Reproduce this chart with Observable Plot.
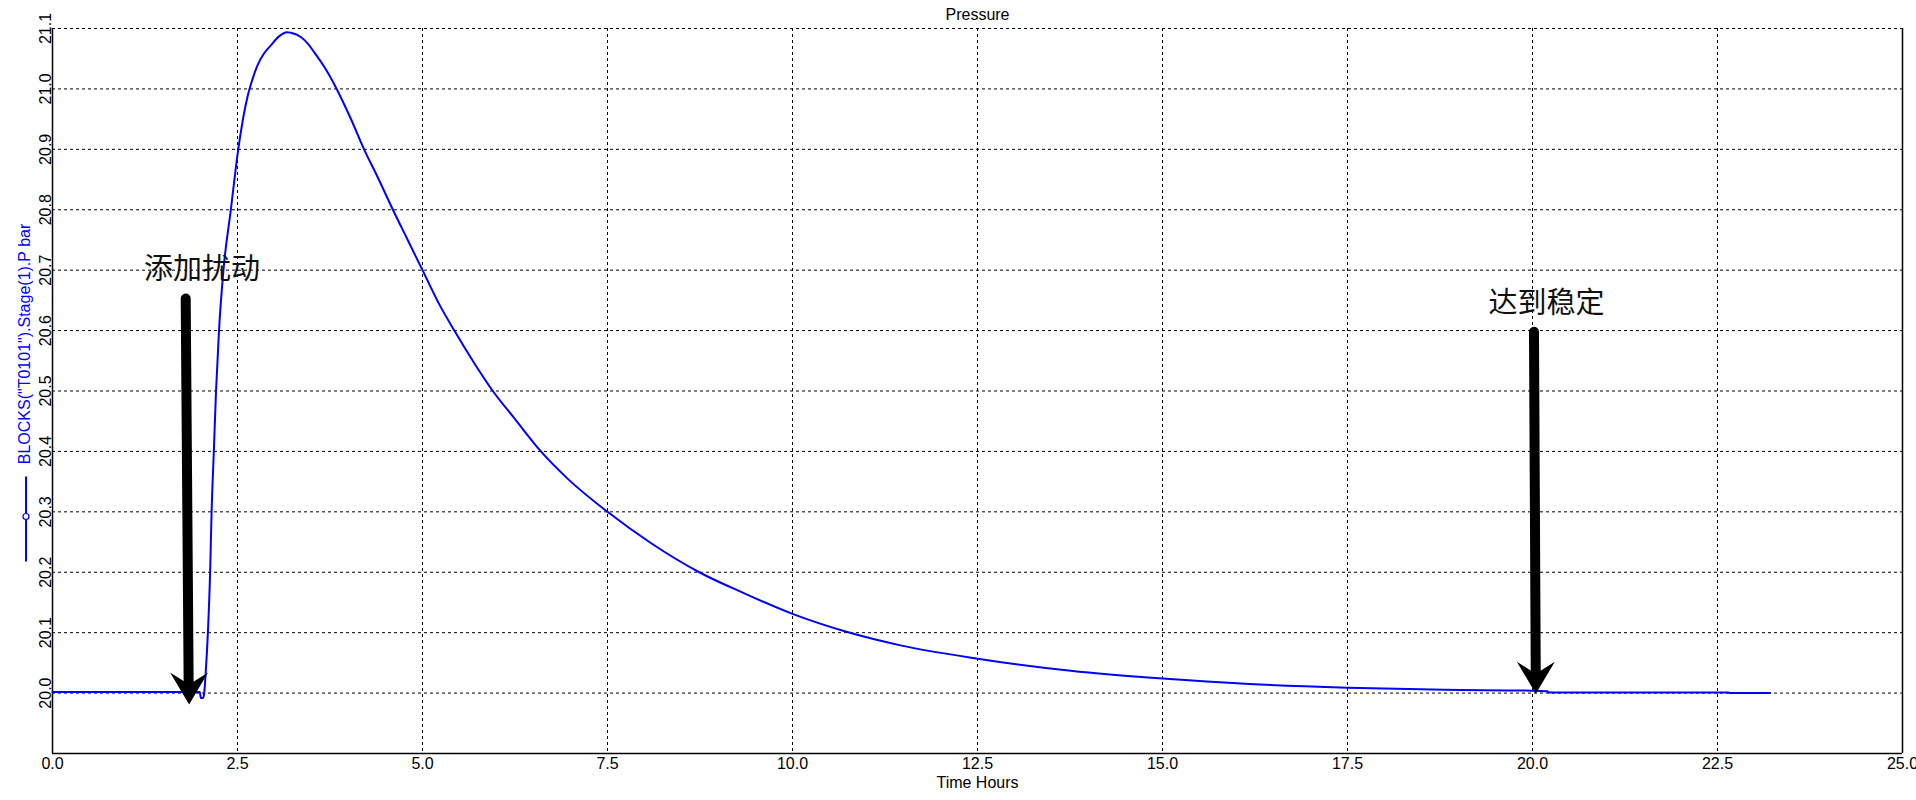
<!DOCTYPE html>
<html>
<head>
<meta charset="utf-8">
<script src="https://cdn.jsdelivr.net/npm/d3@7"></script>
<script src="https://cdn.jsdelivr.net/npm/@observablehq/plot@0.6"></script>
<style>
  html, body { margin: 0; padding: 0; background: #fff; }
  #chart svg { display: block; }
</style>
</head>
<body>
<div id="chart"></div>
<script>
// ---- data ----
const timeHours = [0, 1.99, 2.005, 2.035, 2.05, 2.07, 2.10, 2.13, 2.15, 2.18, 2.21, 2.25, 2.31, 2.41, 2.51, 2.635, 2.70, 2.77, 2.86, 2.95, 3.06, 3.17, 3.22, 3.356, 3.45, 3.535, 3.67, 3.84, 4.03, 4.21, 4.39, 4.60, 4.80, 5.00, 5.22, 5.43, 5.70, 5.95, 6.24, 6.60, 6.96, 7.50, 8.09, 8.74, 9.35, 10.0, 10.74, 11.46, 12.5, 13.76, 15.0, 16.17, 17.5, 18.81, 20.0, 20.2, 20.22, 22.65, 22.67, 23.21];
const pressureBar = [20.002, 20.002, 19.992, 19.992, 20.0, 20.033, 20.1, 20.2, 20.3, 20.4, 20.5, 20.6, 20.7, 20.8, 20.9, 20.987, 21.015, 21.039, 21.059, 21.072, 21.087, 21.094, 21.093, 21.086, 21.075, 21.061, 21.037, 21.0, 20.951, 20.9, 20.855, 20.8, 20.75, 20.7, 20.645, 20.6, 20.546, 20.5, 20.455, 20.4, 20.355, 20.3, 20.248, 20.2, 20.165, 20.131, 20.101, 20.079, 20.057, 20.037, 20.024, 20.015, 20.009, 20.0055, 20.004, 20.003, 20.001, 20.001, 20.0, 20.0];

const xTicks = [0, 2.5, 5, 7.5, 10, 12.5, 15, 17.5, 20, 22.5, 25];
const yTicks = [20.0, 20.1, 20.2, 20.3, 20.4, 20.5, 20.6, 20.7, 20.8, 20.9, 21.0, 21.1];
const xDomain = [0, 25];
const yDomain = [19.9, 21.1];

const chartTitle = "Pressure";
const xLabel = "Time Hours";
const yLabel = "BLOCKS(\"T0101\").Stage(1).P bar";

// annotations
const noteText = ["添加扰动", "达到稳定"];
const noteX = [2.02, 20.19];
const noteY = [20.70, 20.645];
const arrowTopX = [1.80, 20.02];
const arrowTopY = [20.653, 20.598];
const arrowBaseX = [1.84, 20.044];
const arrowBaseY = [20.015, 20.03];
const arrowTipX = [1.846, 20.045];
const arrowTipY = [19.981, 19.999];

// ---- build tables ----
const series = timeHours.map((t, i) => ({t, p: pressureBar[i]}));
const notes = noteText.map((s, i) => ({s, x: noteX[i], y: noteY[i]}));
const arrows = arrowTopX.map((_, i) => ({
  x1: arrowTopX[i], y1: arrowTopY[i], x2: arrowBaseX[i], y2: arrowBaseY[i],
  tx: arrowTipX[i], ty: arrowTipY[i]
}));

// concave arrow-head symbol (tip at origin, pointing down)
const arrowHead = {
  draw(context, size) {
    const k = Math.sqrt(size / Math.PI) / 10;
    context.moveTo(0, 0);
    context.lineTo(-19 * k, -32 * k);
    context.lineTo(0, -20 * k);
    context.lineTo(19 * k, -32 * k);
    context.closePath();
  }
};

const FONT = "'Liberation Sans', Arial, Helvetica, sans-serif";
const gridX = xTicks.filter(d => d > xDomain[0] && d < xDomain[1]);

const legendMark = (index, scales, values, dims) => {
  const g = d3.create("svg:g");
  const cy = (dims.marginTop + dims.height - dims.marginBottom) / 2;
  const x = 26;
  g.append("line").attr("x1", x).attr("x2", x)
    .attr("y1", cy + 86).attr("y2", cy + 171)
    .attr("stroke", "#0000ff").attr("stroke-width", 2);
  g.append("circle").attr("cx", x).attr("cy", cy + 126).attr("r", 3)
    .attr("fill", "#fff").attr("stroke", "#0000ff").attr("stroke-width", 1.2);
  return g.node();
};

const chart = Plot.plot({
  width: 1916,
  height: 800,
  marginLeft: 52,
  marginRight: 14,
  marginTop: 28,
  marginBottom: 47,
  style: {fontFamily: FONT, fontSize: "16px", color: "#000", background: "#fff"},
  x: {domain: xDomain},
  y: {domain: yDomain},
  marks: [
    Plot.gridX(gridX, {stroke: "#000", strokeOpacity: 1, strokeWidth: 1, strokeDasharray: "3,3"}),
    Plot.gridY(yTicks, {stroke: "#000", strokeOpacity: 1, strokeWidth: 1, strokeDasharray: "3,3"}),
    Plot.ruleX([xDomain[0], xDomain[1]], {stroke: "#000", strokeWidth: 1.5}),
    Plot.ruleY([yDomain[0]], {stroke: "#000", strokeWidth: 1.5}),
    Plot.axisX({ticks: xTicks, tickSize: 0, tickPadding: 4, tickFormat: d => d.toFixed(1), label: null, fontSize: 16}),
    Plot.axisY({ticks: yTicks, tickSize: 0, tickPadding: 2, tickRotate: -90, tickFormat: d => d.toFixed(1), label: null, fontSize: 16}),
    Plot.line(series, {x: "t", y: "p", stroke: "#0000ff", strokeWidth: 2, curve: "monotone-x"}),
    Plot.link(arrows, {x1: "x1", y1: "y1", x2: "x2", y2: "y2", stroke: "#000", strokeWidth: 10, strokeLinecap: "round"}),
    Plot.dot(arrows, {x: "tx", y: "ty", symbol: arrowHead, r: 10, fill: "#000", stroke: "none"}),
    Plot.text(notes, {x: "x", y: "y", text: "s", fontSize: 29, fill: "#111", fontFamily: "'Noto Sans CJK SC', sans-serif"}),
    Plot.text([chartTitle], {frameAnchor: "top", dy: -14, lineAnchor: "middle", textAnchor: "middle", fontSize: 16, fill: "#000"}),
    Plot.text([xLabel], {frameAnchor: "bottom", dy: 29, lineAnchor: "middle", textAnchor: "middle", fontSize: 16, fill: "#000"}),
    Plot.text([yLabel], {frameAnchor: "left", dx: -28, dy: -47, rotate: -90, lineAnchor: "middle", textAnchor: "middle", fontSize: 16, fill: "#0000ff"}),
    legendMark
  ]
});

document.getElementById("chart").appendChild(chart);
</script>
</body>
</html>
